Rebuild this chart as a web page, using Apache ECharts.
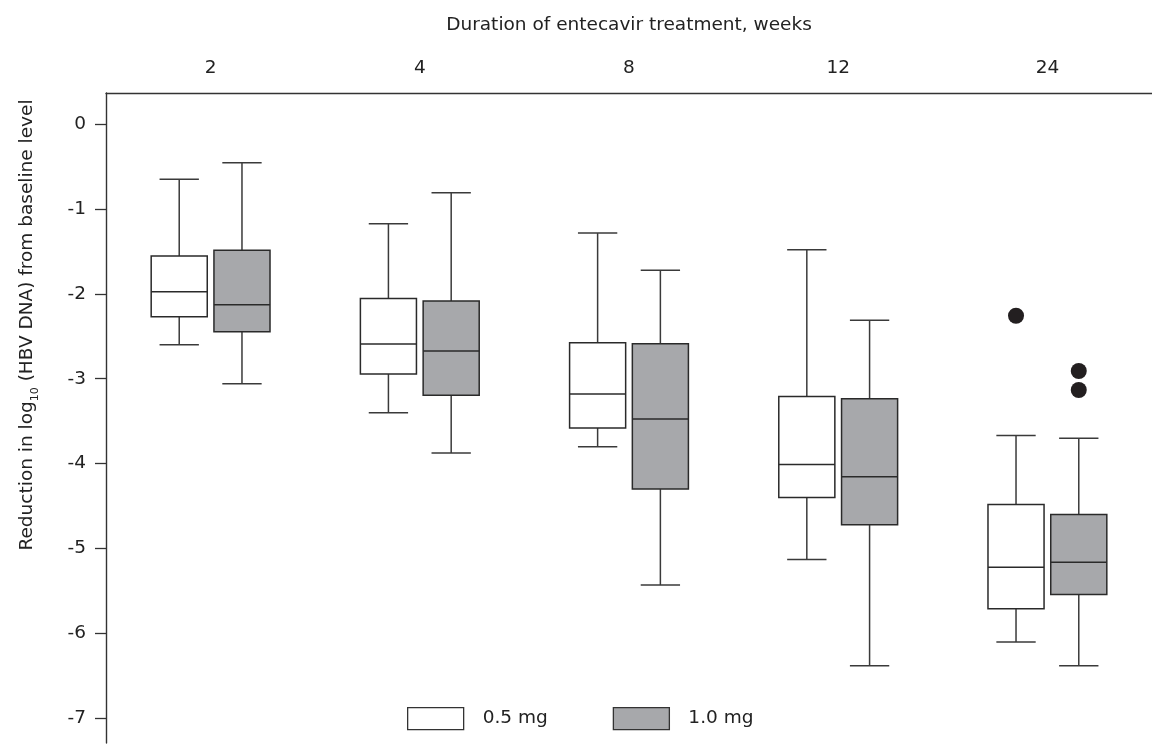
<!DOCTYPE html>
<html>
<head>
<meta charset="utf-8">
<script src="https://cdn.jsdelivr.net/npm/echarts@6/dist/echarts.min.js"></script>
<style>
html,body{margin:0;padding:0;background:#fff;}
#chart{width:1152px;height:744px;}
</style>
</head>
<body>
<div id="chart"></div>
<script>
// Weeks of treatment (categories)
const categories = ['2', '4', '8', '12', '24'];
// y tick values
const yTicks = [0, -1, -2, -3, -4, -5, -6, -7];
// Box statistics per week: [min, Q1, median, Q3, max]
const box05 = [
  [-2.60, -2.27, -1.975, -1.555, -0.65],
  [-3.40, -2.945, -2.59, -2.055, -1.175],
  [-3.80, -3.58, -3.18, -2.576, -1.285],
  [-5.13, -4.40, -4.01, -3.21, -1.48],
  [-6.10, -5.71, -5.22, -4.48, -3.67]
];
const box10 = [
  [-3.06, -2.446, -2.128, -1.488, -0.456],
  [-3.875, -3.196, -2.674, -2.085, -0.81],
  [-5.43, -4.30, -3.475, -2.587, -1.723],
  [-6.38, -4.72, -4.154, -3.235, -2.31],
  [-6.38, -5.54, -5.16, -4.60, -3.70]
];
// Outliers: [category index, value]
const outliers05 = [[4, -2.258]];
const outliers10 = [[4, -2.909], [4, -3.133]];
const seriesNames = ['0.5 mg', '1.0 mg'];

const FONT = 'DejaVu Sans';
const FS = 18.5;
const TXT = '#222';
const STROKE = '#333';
const GREY = '#a7a8ab';

function boxRender(dir, fill) {
  return function (params, api) {
    const cat = api.value(0);
    const bw = api.size([1, 0])[0];
    const cx = api.coord([cat, 0])[0] + dir * bw * 0.15;
    const y = function (i) { return api.coord([cat, api.value(i)])[1]; };
    const yMin = y(1), yQ1 = y(2), yMed = y(3), yQ3 = y(4), yMax = y(5);
    const hw = bw * 0.134, cw = bw * 0.094;
    const ls = { stroke: '#3a3a3a', lineWidth: 1.5 };
    return {
      type: 'group',
      children: [
        { type: 'line', shape: { x1: cx, y1: yMax, x2: cx, y2: yQ3 }, style: ls },
        { type: 'line', shape: { x1: cx, y1: yQ1, x2: cx, y2: yMin }, style: ls },
        { type: 'line', shape: { x1: cx - cw, y1: yMax, x2: cx + cw, y2: yMax }, style: ls },
        { type: 'line', shape: { x1: cx - cw, y1: yMin, x2: cx + cw, y2: yMin }, style: ls },
        { type: 'rect', shape: { x: cx - hw, y: yQ3, width: 2 * hw, height: yQ1 - yQ3 },
          style: { fill: fill, stroke: '#2a2a2a', lineWidth: 1.5 } },
        { type: 'line', shape: { x1: cx - hw, y1: yMed, x2: cx + hw, y2: yMed },
          style: { stroke: '#2a2a2a', lineWidth: 1.5 } }
      ]
    };
  };
}

function outlierRender(dir) {
  return function (params, api) {
    const cat = api.value(0);
    const bw = api.size([1, 0])[0];
    const p = api.coord([cat, api.value(1)]);
    return {
      type: 'circle',
      shape: { cx: p[0] + dir * bw * 0.15, cy: p[1], r: 8 },
      style: { fill: '#231f20' }
    };
  };
}

const chart = echarts.init(document.getElementById('chart'), null, { renderer: 'canvas' });
const option = {
  animation: false,
  backgroundColor: '#fff',
  textStyle: { fontFamily: FONT },
  grid: { left: 106, right: -5, top: 93, bottom: 1, containLabel: false },
  legend: {
    left: 402, top: 702,
    itemWidth: 56, itemHeight: 22, itemGap: 65,
    icon: 'rect',
    selectedMode: false,
    textStyle: { fontSize: FS, fontFamily: FONT, color: TXT, padding: [0, 0, 0, 14] },
    data: [
      { name: seriesNames[0], itemStyle: { color: '#fff', borderColor: STROKE, borderWidth: 1.3 } },
      { name: seriesNames[1], itemStyle: { color: GREY, borderColor: STROKE, borderWidth: 1.3 } }
    ]
  },
  xAxis: {
    type: 'category',
    position: 'top',
    data: categories,
    boundaryGap: true,
    name: 'Duration of entecavir treatment, weeks',
    nameLocation: 'middle',
    nameGap: 58,
    nameTextStyle: { fontSize: FS, fontFamily: FONT, color: TXT },
    axisLine: { show: true, onZero: false, lineStyle: { color: STROKE, width: 1.4 } },
    axisTick: { show: false },
    axisLabel: { fontSize: FS, fontFamily: FONT, color: TXT, margin: 15 },
    splitLine: { show: false }
  },
  yAxis: {
    type: 'value',
    min: -7.29,
    max: 0.365,
    axisLine: { show: true, onZero: false, lineStyle: { color: STROKE, width: 1.4 } },
    axisTick: { show: true, length: 11, lineStyle: { color: STROKE, width: 1.3 }, customValues: yTicks },
    axisLabel: { fontSize: FS, fontFamily: FONT, color: TXT, margin: 20, customValues: yTicks },
    splitLine: { show: false }
  },
  graphic: [{
    type: 'text',
    x: 25, y: 325,
    rotation: Math.PI / 2,
    style: {
      text: '{a|Reduction in log}{s|10}{a| (HBV DNA) from baseline level}',
      align: 'center',
      verticalAlign: 'middle',
      fill: TXT,
      rich: {
        a: { fontSize: FS, fontFamily: FONT, fill: TXT, color: TXT, lineHeight: 24, verticalAlign: 'bottom' },
        s: { fontSize: 11, fontFamily: FONT, fill: TXT, color: TXT, lineHeight: 24, verticalAlign: 'bottom', padding: [0, 0, -4, 0] }
      }
    }
  }],
  series: [
    {
      name: seriesNames[0], type: 'custom',
      itemStyle: { color: '#fff', borderColor: STROKE },
      renderItem: boxRender(-1, '#fff'),
      encode: { x: 0, y: [1, 2, 3, 4, 5] },
      data: box05.map(function (b, i) { return [i].concat(b); })
    },
    {
      name: seriesNames[1], type: 'custom',
      itemStyle: { color: GREY, borderColor: STROKE },
      renderItem: boxRender(1, GREY),
      encode: { x: 0, y: [1, 2, 3, 4, 5] },
      data: box10.map(function (b, i) { return [i].concat(b); })
    },
    {
      name: 'outliers 0.5', type: 'custom',
      renderItem: outlierRender(-1),
      encode: { x: 0, y: 1 },
      data: outliers05
    },
    {
      name: 'outliers 1.0', type: 'custom',
      renderItem: outlierRender(1),
      encode: { x: 0, y: 1 },
      data: outliers10
    }
  ]
};
chart.setOption(option);
</script>
</body>
</html>
